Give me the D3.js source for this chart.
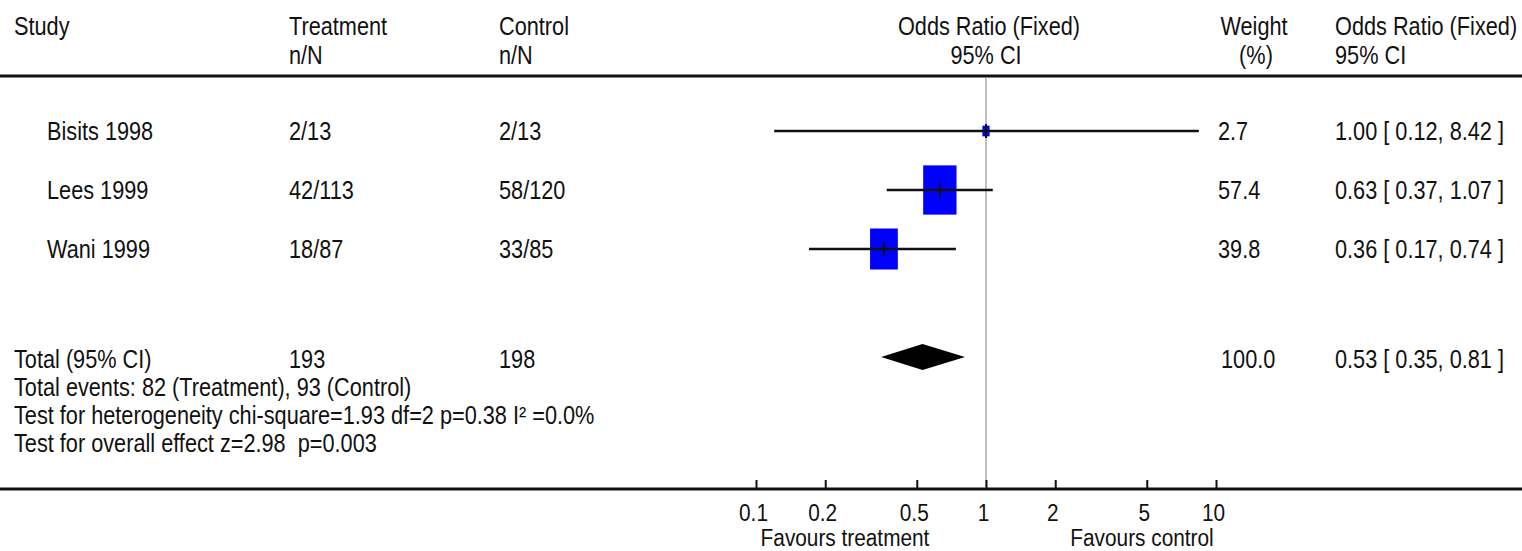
<!DOCTYPE html>
<html>
<head>
<meta charset="utf-8">
<script src="https://cdn.jsdelivr.net/npm/d3@7"></script>
<style>
  body { margin: 0; background: #fff; }
  text { font-family: "Liberation Sans", Arial, sans-serif; font-size: 24px; fill: #111; white-space: pre; }
</style>
</head>
<body>
<div id="forest"></div>
<script>
// chart values
var studies = ["Bisits 1998", "Lees 1999", "Wani 1999"];
var treatment = ["2/13", "42/113", "18/87"];
var control = ["2/13", "58/120", "33/85"];
var oddsRatio = [1.00, 0.63, 0.36];
var ciLow = [0.12, 0.37, 0.17];
var ciHigh = [8.42, 1.07, 0.74];
var weight = [2.7, 57.4, 39.8];

var total = {label: "Total (95% CI)", treat: "193", ctrl: "198", or: 0.53, lo: 0.35, hi: 0.81, weight: 100.0};
var footnotes = [
  "Total events: 82 (Treatment), 93 (Control)",
  "Test for heterogeneity chi-square=1.93 df=2 p=0.38 I\u00b2 =0.0%",
  "Test for overall effect z=2.98  p=0.003"
];
var tickValues = [0.1, 0.2, 0.5, 1, 2, 5, 10];

var width = 1522, height = 551;
var SX = 0.905, SY = 1.1; // text is drawn narrow and tall

var svg = d3.select("#forest")
  .append("svg")
  .attr("width", width)
  .attr("height", height);

var x = d3.scaleLog().domain([0.1, 10]).range([756, 1216]);
var y = d3.scalePoint().domain(studies).range([131, 249]);
var totalY = 357;

function label(xp, yp, s, anchor, sy) {
  return svg.append("text")
    .attr("transform", "translate(" + xp + "," + yp + ") scale(" + SX + "," + (sy || SY) + ")")
    .style("text-anchor", anchor || "start")
    .text(s);
}

// header
label(14, 35, "Study");
label(289, 35, "Treatment");
label(289, 64, "n/N");
label(499, 35, "Control");
label(499, 64, "n/N");
label(x(1) + 3, 35, "Odds Ratio (Fixed)", "middle");
label(x(1), 64, "95% CI", "middle");
label(1254, 35, "Weight", "middle");
label(1256, 64, "(%)", "middle");
label(1335, 35, "Odds Ratio (Fixed)");
label(1335, 64, "95% CI");

// horizontal rules
svg.append("line").attr("x1", 0).attr("x2", width).attr("y1", 76).attr("y2", 76)
  .style("stroke", "#111").style("stroke-width", 3);
svg.append("line").attr("x1", 0).attr("x2", width).attr("y1", 489).attr("y2", 489)
  .style("stroke", "#111").style("stroke-width", 3);

// line of no effect
svg.append("line")
  .attr("x1", x(1)).attr("x2", x(1)).attr("y1", 78).attr("y2", 488)
  .style("stroke", "#aaa").style("stroke-width", 1.5);

// study rows
var rows = studies.map(function(s, i) {
  return {study: s, treat: treatment[i], ctrl: control[i], or: oddsRatio[i], lo: ciLow[i], hi: ciHigh[i], w: weight[i]};
});

var row = svg.selectAll(".row")
  .data(rows)
  .enter()
  .append("g")
  .attr("class", "row");

row.append("rect")
  .attr("x", function(d) { return x(d.or) - 2.2 * Math.sqrt(d.w); })
  .attr("y", function(d) { return y(d.study) - 3.25 * Math.sqrt(d.w); })
  .attr("width", function(d) { return 4.4 * Math.sqrt(d.w); })
  .attr("height", function(d) { return 6.5 * Math.sqrt(d.w); })
  .style("fill", "#0000ff");

row.append("line")
  .attr("x1", function(d) { return x(d.lo); })
  .attr("x2", function(d) { return x(d.hi); })
  .attr("y1", function(d) { return y(d.study); })
  .attr("y2", function(d) { return y(d.study); })
  .style("stroke", "#111").style("stroke-width", 2.5);

row.append("line")
  .attr("x1", function(d) { return x(d.or); })
  .attr("x2", function(d) { return x(d.or); })
  .attr("y1", function(d) { return y(d.study) - 7; })
  .attr("y2", function(d) { return y(d.study) + 7; })
  .style("stroke", "#111").style("stroke-width", 2);

rows.forEach(function(d) {
  var yb = y(d.study) + 9;
  label(47, yb, d.study);
  label(289, yb, d.treat);
  label(499, yb, d.ctrl);
  label(1218, yb, d.w.toFixed(1));
  label(1335, yb, d.or.toFixed(2) + " [ " + d.lo.toFixed(2) + ", " + d.hi.toFixed(2) + " ]");
});

// pooled estimate
svg.append("path")
  .attr("d", "M" + x(total.lo) + "," + totalY +
             "L" + x(total.or) + "," + (totalY - 13) +
             "L" + x(total.hi) + "," + totalY +
             "L" + x(total.or) + "," + (totalY + 13) + "Z")
  .style("fill", "#000");

label(14, 368, total.label);
label(289, 368, total.treat);
label(499, 368, total.ctrl);
label(1221, 368, total.weight.toFixed(1));
label(1335, 368, total.or.toFixed(2) + " [ " + total.lo.toFixed(2) + ", " + total.hi.toFixed(2) + " ]");

footnotes.forEach(function(f, i) {
  label(14, 396 + i * 28, f);
});

// axis: ticks point up, labels below
var axis = svg.append("g")
  .attr("transform", "translate(0,489)")
  .call(d3.axisBottom(x).tickValues(tickValues).tickFormat(d3.format("")).tickSizeInner(-9).tickSizeOuter(0));
axis.select(".domain").remove();
axis.selectAll("line").style("stroke", "#111").style("stroke-width", 2);
axis.selectAll("text")
  .attr("y", null)
  .attr("dy", null)
  .style("font-size", "23px")
  .style("font-family", "\"Liberation Sans\", Arial, sans-serif")
  .style("fill", "#111")
  .attr("transform", "translate(-3,32) scale(" + SX + ",1.04)");

label(845, 546, "Favours treatment", "middle", 1.0).style("font-size", "23px");
label(1142, 546, "Favours control", "middle", 1.0).style("font-size", "23px");
</script>
</body>
</html>
